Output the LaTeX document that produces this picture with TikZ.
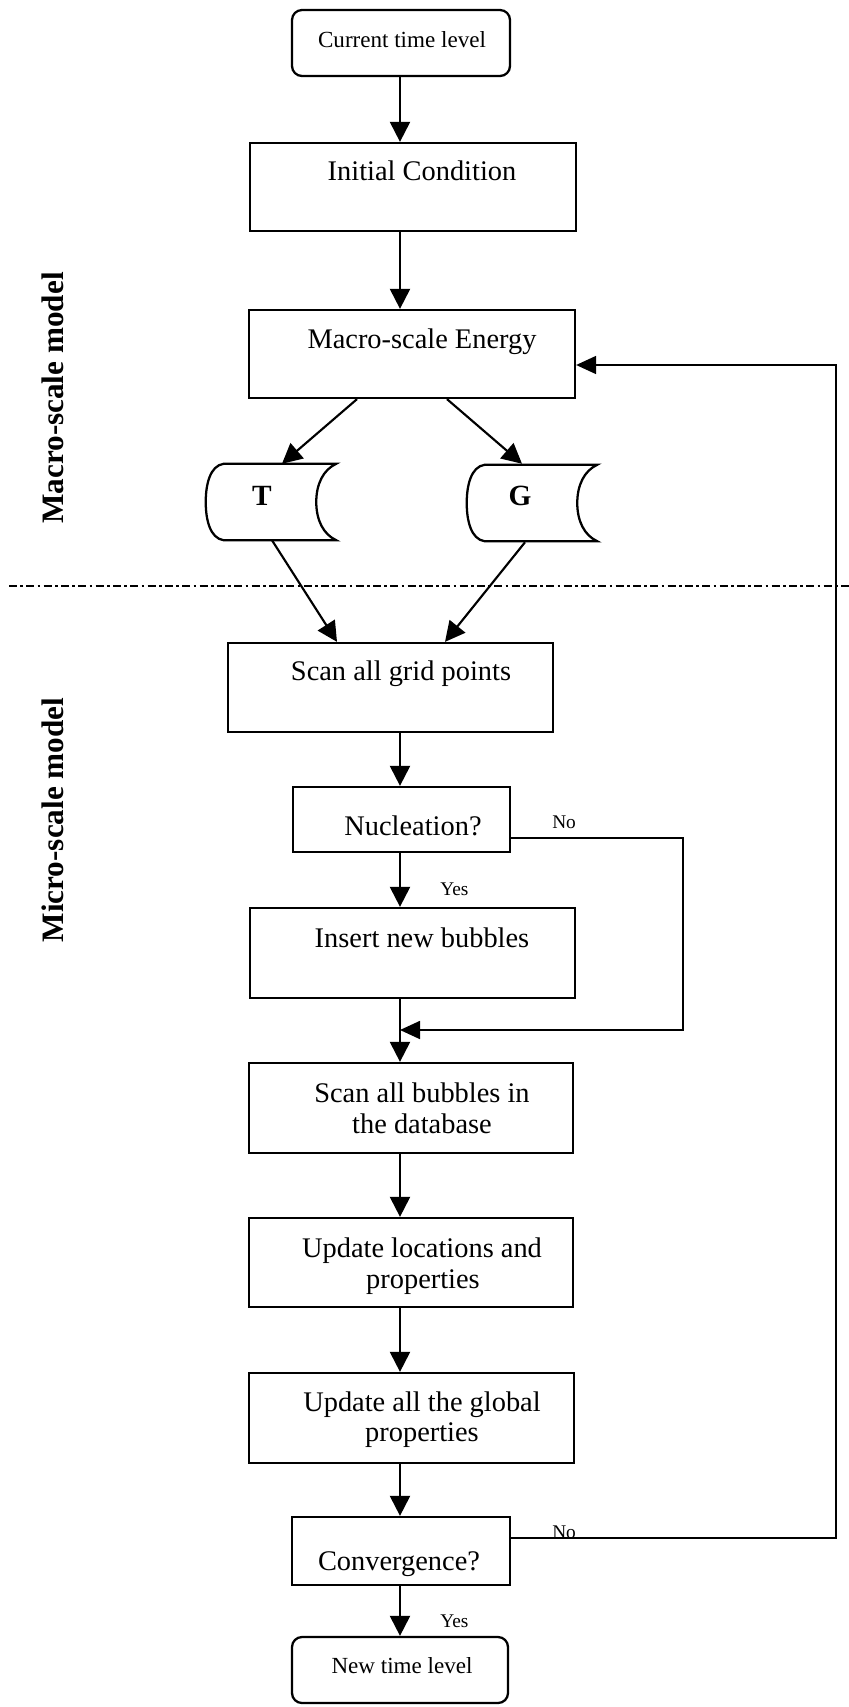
\documentclass[tikz,border=0pt]{standalone}
\usepackage{fontspec}
\setmainfont{Liberation Serif}
\usetikzlibrary{arrows.meta,calc}

\begin{document}
\begin{tikzpicture}[x=0.75pt,y=-0.75pt,
  box/.style={draw,line width=1.7pt,inner sep=0pt,fill=white},
  rbox/.style={box,rounded corners=7.5pt},
  store/.style={inner sep=0pt,minimum width=97.5pt,minimum height=57pt},
  flow/.style={line width=1.6pt,-{Triangle[length=15pt,width=15pt]}},
  back/.style={line width=1.3pt},
  backarrow/.style={back,-{Triangle[length=15pt,width=13.5pt]}},
  txt/.style={anchor=base,inner sep=0pt,font=\fontsize{21.3pt}{24pt}\selectfont},
  smalltxt/.style={anchor=base,inner sep=0pt,font=\fontsize{17.3pt}{20pt}\selectfont},
  tag/.style={anchor=base west,inner sep=0pt,font=\fontsize{14.5pt}{17pt}\selectfont},
  side/.style={anchor=base,rotate=90,inner sep=0pt,font=\fontsize{23.4pt}{26pt}\selectfont\bfseries},
  sep/.style={line width=1.5pt,dash pattern=on 6pt off 2.5pt on 2pt off 2.5pt},
]
\fill[white] (0,0) rectangle (849,1707);
\useasboundingbox (0,0) rectangle (849,1707);

% main column of boxes
\node[rbox,minimum width=163.5pt,minimum height=49.5pt] (cur) at (401,43) {};
\node[box,minimum width=244.5pt,minimum height=66pt] (init) at (413,187) {};
\node[box,minimum width=244.5pt,minimum height=66pt] (energy) at (412,354) {};
\node[store] (tdata) at (271,502) {};
\node[store] (gdata) at (532,503) {};
\node[box,minimum width=243.75pt,minimum height=66.75pt] (grid) at (390.5,687.5) {};
\node[box,minimum width=162.75pt,minimum height=48.75pt] (nuc) at (401.5,819.5) {};
\node[box,minimum width=243.75pt,minimum height=67.5pt] (insert) at (412.5,953) {};
\node[box,minimum width=243pt,minimum height=67.5pt] (scanb) at (411,1108) {};
\node[box,minimum width=243pt,minimum height=66.75pt] (loc) at (411,1262.5) {};
\node[box,minimum width=243.75pt,minimum height=67.5pt] (glob) at (411.5,1418) {};
\node[box,minimum width=163.5pt,minimum height=51pt] (conv) at (401,1551) {};
\node[rbox,minimum width=162pt,minimum height=49.5pt] (new) at (400,1670) {};

% stored data drums
\foreach \s in {tdata,gdata}{
  \draw[line width=1.7pt,fill=white]
    ($(\s.north west)+(18,0)$) -- (\s.north east)
    .. controls +(-13,6) and +(0,-18) .. ($(\s.east)+(-20,0)$)
    .. controls +(0,18) and +(-13,-6) .. (\s.south east)
    -- ($(\s.south west)+(18,0)$)
    .. controls +(-14,-2) and +(0,17) .. (\s.west)
    .. controls +(0,-17) and +(-14,2) .. cycle;
}

% box texts
\node[smalltxt] (curtxt) at (402,47) {Current time level};
\node[txt] (inittxt) at (422,180) {Initial Condition};
\node[txt] (energytxt) at (422,348) {Macro-scale Energy};
\node[txt,font=\fontsize{22pt}{24pt}\selectfont\bfseries] (ttxt) at (262,505) {T};
\node[txt,font=\fontsize{22pt}{24pt}\selectfont\bfseries] (gtxt) at (520,505) {G};
\node[txt] (gridtxt) at (401,680) {Scan all grid points};
\node[txt] (nuctxt) at (413,835) {Nucleation?};
\node[txt] (inserttxt) at (422,947) {Insert new bubbles};
\node[txt] (scanbA) at (422,1102) {Scan all bubbles in};
\node[txt] (scanbB) at (422,1133) {the database};
\node[txt] (locA) at (422,1257) {Update locations and};
\node[txt] (locB) at (423,1288) {properties};
\node[txt] (globA) at (422,1411) {Update all the global};
\node[txt] (globB) at (422,1441) {properties};
\node[txt] (convtxt) at (399,1570) {Convergence?};
\node[smalltxt] (newtxt) at (402,1673) {New time level};

% side titles
\node[side] (macrolbl) at (63,398) {Macro-scale model};
\node[side] (microlbl) at (63,820) {Micro-scale model};

% separator between the two models
\coordinate (sepL) at (9,586);
\coordinate (sepR) at (849,586);
\draw[sep] (sepL) -- (sepR);

% vertical flow
\coordinate (axis) at (400,0);
\draw[flow] (axis |- cur.south) -- (axis |- init.north);
\draw[flow] (axis |- init.south) -- (axis |- energy.north);
\draw[flow] ($(energy.south)+(-55,0)$) -- ($(tdata.north)+(11,0)$);
\draw[flow] ($(energy.south)+(35,0)$) -- ($(gdata.north)+(-10,-1)$);
\draw[flow] ($(tdata.south)+(1,0)$) -- ($(grid.north)+(-53.5,0)$);
\draw[flow] ($(gdata.south)+(-7,1)$) -- ($(grid.north)+(54.5,0)$);
\draw[flow] (axis |- grid.south) -- (axis |- nuc.north);
\draw[flow] (axis |- nuc.south) -- (axis |- insert.north);
\draw[flow] (axis |- insert.south) -- (axis |- scanb.north);
\draw[flow] (axis |- scanb.south) -- (axis |- loc.north);
\draw[flow] (axis |- loc.south) -- (axis |- glob.north);
\draw[flow] (axis |- glob.south) -- (axis |- conv.north);
\draw[flow] (axis |- conv.south) -- (axis |- new.north);

% branch: no nucleation
\coordinate (merge) at (400,1030);
\coordinate (nobend) at (683,1030);
\draw[backarrow] ($(nuc.south east)+(0,-15)$) -| (nobend) -- (merge);
\node[tag] (nuc-no) at (552,828) {No};
\node[tag] (nuc-yes) at (440,895) {Yes};

% loop back: not converged
\coordinate (fbtop) at (836,365);
\draw[backarrow] ($(conv.north east)+(0,22)$) -| (fbtop) -- ($(energy.east)+(0,11)$);
\node[tag] (conv-no) at (552,1538) {No};
\node[tag] (conv-yes) at (440,1627) {Yes};
\end{tikzpicture}
\end{document}
